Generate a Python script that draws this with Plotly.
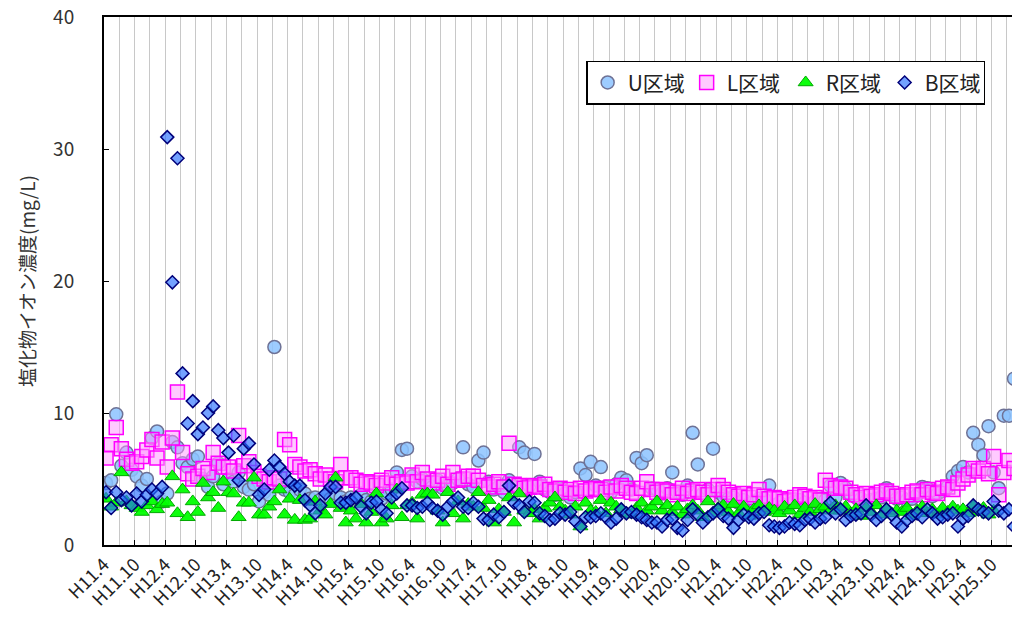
import plotly.graph_objects as go

# Monthly values, fiscal-year rows (April .. March), H11.4 .. H26.3
u_values = [
    4.7, 4.9, 9.9, 6.0, 7.0, 5.7, 5.2, 4.5, 5.0, 8.1, 8.6, 3.3,
    3.9, 7.8, 7.4, 6.2, 5.9, 6.5, 6.7, 5.0, 4.4, 5.2, 6.2, 4.6,
    5.0, 4.8, 5.5, 4.4, 4.2, 4.6, 3.3, 4.0, 3.8, 15.0, 4.5, 4.2,
    4.0, 3.8, 4.2, 3.9, 3.5, 3.6, 3.4, 3.7, 3.5, 3.9, 3.6, 3.3,
    3.6, 3.5, 3.8, 3.4, 3.3, 3.6, 3.5, 3.9, 4.2, 5.5, 7.2, 7.3,
    5.2, 4.8, 5.0, 4.6, 4.4, 4.9, 4.3, 4.5, 4.7, 5.0, 7.4, 4.6,
    4.4, 6.4, 7.0, 4.8, 4.2, 4.4, 4.0, 4.9, 4.4, 7.4, 7.0, 4.5,
    6.9, 4.8, 4.2, 4.0, 3.8, 4.3, 3.9, 3.6, 4.0, 5.8, 5.3, 6.3,
    4.5, 5.9, 4.4, 4.0, 4.6, 5.1, 4.9, 4.2, 6.6, 6.2, 6.8, 4.3,
    4.2, 3.9, 4.3, 5.5, 4.0, 3.8, 4.5, 8.5, 6.1, 3.9, 4.2, 7.3,
    4.0, 3.7, 3.5, 3.6, 3.2, 3.4, 3.1, 3.3, 3.5, 3.5, 4.5, 3.0,
    3.2, 3.0, 3.1, 3.3, 3.4, 3.2, 3.0, 3.3, 3.5, 3.4, 4.5, 3.6,
    4.7, 4.3, 3.8, 3.6, 3.5, 3.3, 3.4, 3.5, 3.6, 4.3, 3.8, 3.5,
    3.6, 3.4, 3.5, 3.8, 4.4, 4.3, 3.7, 3.9, 4.1, 4.4, 5.2, 5.6,
    5.9, 5.5, 8.5, 7.6, 6.8, 9.0, 5.5, 4.3, 9.8, 9.8, 12.6, None,
]
l_values = [
    6.6, 7.6, 8.9, 7.3, 6.5, 6.2, 6.3, 6.7, 7.2, 8.0, 6.6, 7.8,
    5.9, 8.1, 11.6, 7.0, 5.4, 5.0, 5.2, 5.8, 5.5, 7.0, 6.2, 5.9,
    5.9, 5.6, 8.3, 6.0, 6.3, 5.5, 5.2, 5.0, 4.8, 5.1, 5.0, 8.0,
    7.6, 6.1, 5.9, 5.6, 5.7, 5.4, 5.0, 5.3, 5.0, 4.8, 6.1, 5.1,
    5.1, 4.9, 4.6, 4.8, 4.7, 4.5, 4.9, 4.7, 5.1, 4.6, 4.8, 4.7,
    5.3, 4.8, 5.5, 5.0, 4.7, 4.9, 5.2, 4.6, 5.5, 4.9, 5.0, 5.2,
    5.2, 4.9, 4.5, 4.4, 4.6, 4.8, 4.4, 7.7, 4.6, 4.5, 4.3, 4.4,
    4.5, 4.4, 4.6, 4.2, 4.1, 4.3, 4.0, 4.2, 3.9, 4.3, 4.1, 4.2,
    4.3, 4.2, 4.0, 4.4, 4.1, 4.5, 4.3, 4.0, 3.9, 4.3, 4.8, 4.2,
    4.0, 4.2, 4.1, 3.8, 4.0, 4.3, 3.9, 4.1, 4.2, 4.0, 3.8, 4.2,
    4.5, 4.2, 4.0, 3.8, 3.7, 3.9, 3.6, 3.8, 4.2, 3.7, 3.5, 3.6,
    3.5, 3.3, 3.4, 3.6, 3.8, 3.7, 3.5, 3.6, 3.4, 4.9, 4.5, 4.3,
    4.4, 4.3, 4.0, 3.8, 3.6, 3.9, 3.7, 3.8, 4.0, 4.1, 3.9, 3.7,
    3.7, 3.8, 4.0, 4.1, 3.8, 4.2, 4.0, 3.9, 4.3, 4.4, 4.2, 4.7,
    5.0, 5.3, 5.8, 5.6, 5.8, 5.4, 6.7, 3.8, 5.5, 6.4, 5.8, None,
]
r_values = [
    3.5, 2.9, 3.2, 5.5, 3.3, 3.0, 2.8, 2.5, 3.0, 3.3, 2.7, 3.1,
    3.2, 5.2, 2.4, 4.2, 2.1, 3.3, 2.5, 4.7, 3.6, 4.0, 2.8, 4.8,
    4.0, 3.9, 2.1, 3.2, 3.2, 5.1, 2.3, 2.3, 2.9, 3.3, 4.2, 2.3,
    3.5, 1.9, 3.4, 1.9, 2.0, 3.3, 2.6, 2.3, 3.1, 5.1, 2.8, 1.7,
    2.6, 2.0, 3.1, 1.7, 2.5, 3.9, 1.7, 2.0, 3.0, 4.2, 2.1, 3.0,
    3.2, 2.0, 3.8, 3.9, 3.8, 2.6, 1.7, 4.0, 2.4, 3.3, 2.0, 3.1,
    2.9, 4.0, 2.8, 3.4, 1.7, 2.7, 2.5, 3.6, 1.7, 3.9, 2.6, 2.4,
    2.7, 2.0, 2.8, 3.2, 3.6, 2.9, 2.6, 2.3, 2.9, 1.4, 3.2, 2.6,
    2.5, 3.4, 2.4, 3.2, 2.9, 2.7, 2.4, 2.3, 2.8, 3.2, 2.6, 2.9,
    3.3, 2.6, 3.0, 2.5, 2.9, 2.3, 2.7, 3.0, 2.6, 2.1, 3.3, 2.4,
    2.8, 3.0, 2.5, 3.1, 2.4, 2.9, 2.2, 2.7, 3.0, 2.5, 2.8, 2.6,
    2.4, 2.9, 2.6, 3.0, 2.3, 2.8, 2.5, 3.1, 2.7, 2.9, 2.6, 3.0,
    2.6, 2.9, 2.4, 2.7, 2.2, 2.8, 2.5, 3.0, 2.3, 2.7, 2.4, 2.6,
    2.5, 2.8, 2.2, 2.6, 2.9, 2.4, 2.7, 2.3, 2.8, 2.5, 2.9, 2.6,
    2.7, 2.4, 2.9, 2.5, 2.8, 2.3, 2.6, None, None, None, None, None,
]
b_values = [
    4.0, 2.8, 4.0, 3.4, 3.6, 3.0, 3.9, 3.3, 3.8, 4.2, 3.9, 4.4,
    30.9, 19.9, 29.3, 13.0, 9.2, 10.9, 8.4, 8.9, 10.0, 10.5, 8.7, 8.1,
    7.0, 8.3, 4.9, 7.3, 7.7, 6.1, 3.8, 4.2, 5.7, 6.4, 5.9, 5.4,
    4.8, 4.5, 4.5, 3.4, 3.0, 2.4, 3.0, 3.9, 4.4, 4.4, 3.2, 3.2,
    3.4, 3.6, 2.9, 2.4, 3.2, 3.3, 2.7, 2.4, 3.6, 3.9, 4.3, 3.0,
    3.0, 2.8, 2.9, 3.2, 2.8, 2.6, 2.3, 2.9, 3.3, 3.6, 2.9, 2.8,
    3.2, 2.9, 2.0, 1.9, 2.3, 2.1, 2.5, 4.5, 3.2, 3.0, 2.5, 3.3,
    3.2, 2.4, 2.2, 1.9, 2.0, 2.4, 2.3, 2.5, 1.8, 1.4, 2.1, 2.1,
    2.2, 2.4, 2.1, 1.7, 2.0, 2.7, 2.4, 2.5, 2.3, 2.1, 1.9, 1.7,
    1.7, 1.4, 1.9, 2.0, 1.3, 1.1, 1.9, 2.7, 2.3, 1.7, 2.1, 2.4,
    2.7, 2.2, 2.0, 1.3, 1.9, 2.3, 2.1, 2.0, 2.4, 2.5, 1.5, 1.4,
    1.3, 1.4, 1.7, 1.6, 1.5, 1.9, 2.0, 1.7, 2.0, 2.1, 3.2, 2.4,
    2.7, 1.9, 2.2, 2.3, 2.4, 3.0, 2.3, 1.9, 2.2, 2.7, 2.3, 1.7,
    1.4, 1.9, 2.2, 2.4, 2.1, 2.7, 2.4, 2.0, 2.1, 2.3, 2.4, 1.4,
    2.0, 2.2, 3.0, 2.7, 2.5, 2.4, 3.3, 2.6, 2.4, 2.7, 1.4, None,
]
tick_labels = [
    "H11.4", "H11.10", "H12.4", "H12.10", "H13.4", "H13.10", "H14.4", "H14.10",
    "H15.4", "H15.10", "H16.4", "H16.10", "H17.4", "H17.10", "H18.4", "H18.10",
    "H19.4", "H19.10", "H20.4", "H20.10", "H21.4", "H21.10", "H22.4", "H22.10",
    "H23.4", "H23.10", "H24.4", "H24.10", "H25.4", "H25.10",
]
series_names = ["U区域", "L区域", "R区域", "B区域"]

months = list(range(len(u_values)))
OFF = 0.4
tick_positions = [6 * k - OFF for k in range(len(tick_labels))]

fig = go.Figure()
styles = [
    dict(symbol="circle", size=13, color="rgba(140,195,255,0.85)", line=dict(color="#6E7296", width=1.5)),
    dict(symbol="square", size=14, color="rgba(255,150,255,0.5)", line=dict(color="#FF00FF", width=1.5)),
    dict(symbol="triangle-up", size=13, color="rgba(0,255,0,0.95)", line=dict(color="#00A800", width=1)),
    dict(symbol="diamond", size=10, color="rgba(40,110,255,0.65)", line=dict(color="#00007A", width=1.5)),
]
for name, vals, st in zip(series_names, [u_values, l_values, r_values, b_values], styles):
    fig.add_trace(go.Scatter(x=months, y=vals, mode="markers", name=name, marker=st))

font_jp = "Noto Sans CJK JP, Noto Sans, sans-serif"
fig.update_layout(
    width=1012, height=622,
    margin=dict(l=104, r=0, t=17, b=77),
    plot_bgcolor="white", paper_bgcolor="white",
    font=dict(family=font_jp, color="#333333"),
    showlegend=True,
    legend=dict(
        orientation="h", x=0.531, y=0.917, xanchor="left", yanchor="top",
        bgcolor="white", bordercolor="black", borderwidth=1.5,
        font=dict(size=21, color="#222222"),
        entrywidth=54, entrywidthmode="pixels",
        tracegroupgap=0,
    ),
    xaxis=dict(
        range=[-OFF, 178 - OFF], tickmode="array", tickvals=tick_positions, ticktext=tick_labels,
        tickangle=-45, tickfont=dict(size=18, color="#222222"),
        ticks="inside", ticklen=5, tickcolor="black",
        showgrid=True, gridcolor="#C8C8C8", gridwidth=1,
        minor=dict(tickmode="linear", tick0=-OFF, dtick=3, showgrid=True, gridcolor="#C8C8C8", gridwidth=1),
        showline=True, linecolor="black", linewidth=2, mirror=True,
        zeroline=False, automargin=False,
    ),
    yaxis=dict(
        range=[0, 40], tickvals=[0, 10, 20, 30, 40],
        ticks="inside", ticklen=5, tickcolor="black",
        tickfont=dict(size=19, color="#333333"),
        ticklabelstandoff=24, ticklabeloverflow="allow",
        showgrid=False, zeroline=False,
        showline=True, linecolor="black", linewidth=2,
        automargin=False,
        title=dict(text="塩化物イオン濃度(mg/L)", font=dict(size=19, color="#333333"), standoff=12),
    ),
)
# remove the browser's default page margin so the figure sits at the window origin
fig.write_html(
    "out.html",
    config={"displayModeBar": False},
    post_script="document.body.style.margin='0';",
)
